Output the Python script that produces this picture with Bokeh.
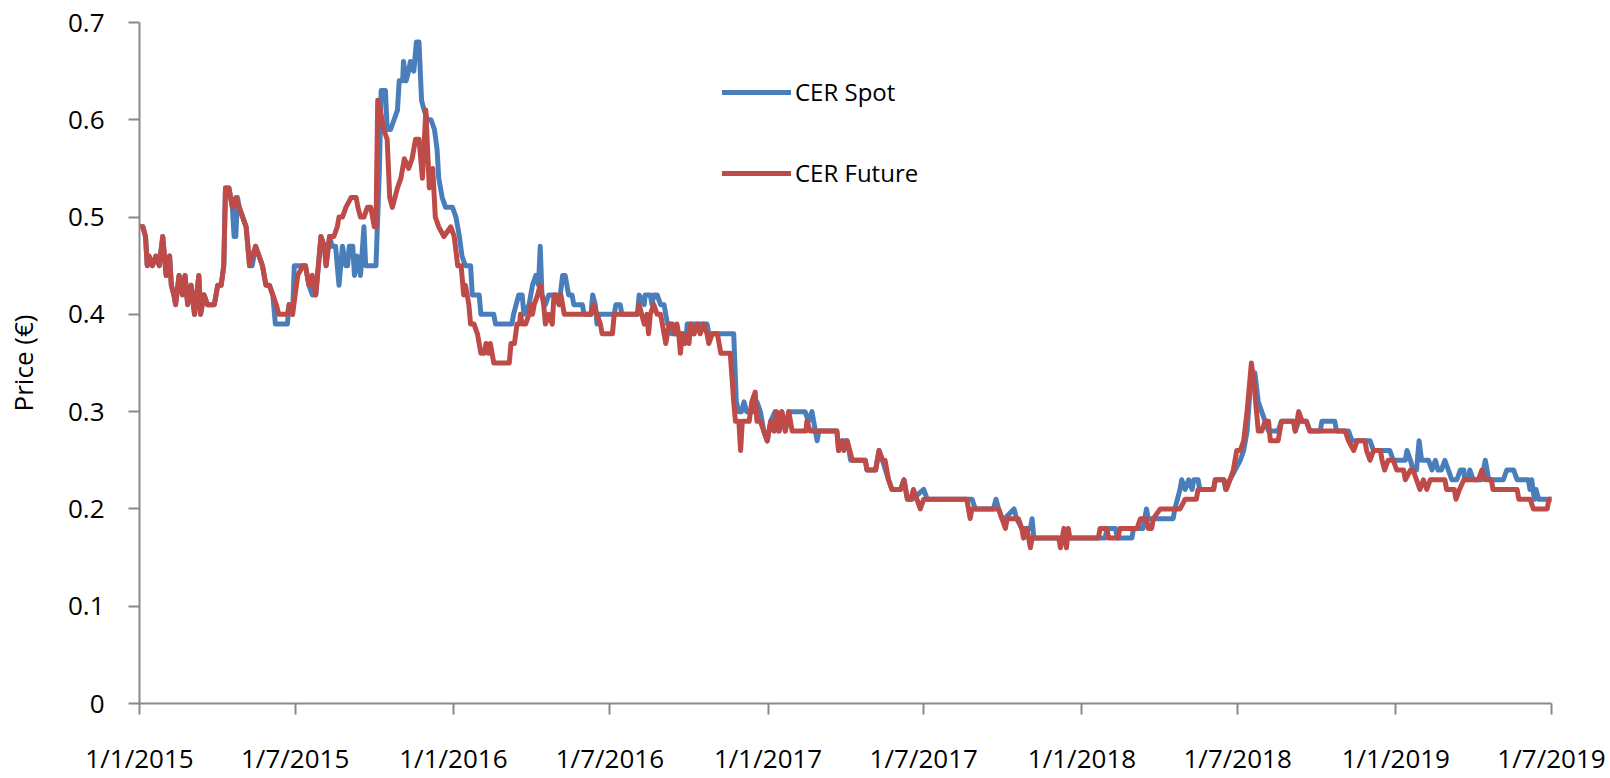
from bokeh.plotting import figure
from bokeh.models import Range1d, FixedTicker, Legend, LegendItem, CustomJSTickFormatter
from bokeh.embed import file_html
from bokeh.resources import INLINE

# x values are days since 1/1/2015
x_tick_days = [0, 181, 365, 547, 731, 912, 1096, 1277, 1461, 1642]
x_tick_labels = ["1/1/2015", "1/7/2015", "1/1/2016", "1/7/2016", "1/1/2017",
                 "1/7/2017", "1/1/2018", "1/7/2018", "1/1/2019", "1/7/2019"]
y_ticks = [0, 0.1, 0.2, 0.3, 0.4, 0.5, 0.6, 0.7]
y_tick_labels = ["0", "0.1", "0.2", "0.3", "0.4", "0.5", "0.6", "0.7"]

future_day = [0, 4, 7, 9, 11, 15, 19, 23, 27, 31, 35, 37, 40, 42, 46, 50, 53, 56, 60, 64, 69, 71, 75, 79, 87, 91, 95, 98,
              100, 104, 108, 112, 116, 120, 124, 128, 131, 135, 139, 143, 147, 151, 155, 159, 162, 172, 174, 178, 184, 190,
              193, 197, 201, 205, 211, 215, 217, 221, 226, 230, 232, 236, 240, 246, 252, 254, 257, 261, 265, 269, 273, 275,
              277, 280, 284, 288, 291, 294, 300, 304, 308, 313, 317, 321, 325, 329, 333, 337, 341, 344, 348, 354, 362, 366,
              370, 374, 375, 377, 379, 381, 383, 385, 389, 393, 395, 397, 401, 403, 406, 408, 410, 412, 430, 432, 436, 439,
              442, 443, 445, 449, 453, 455, 457, 459, 463, 466, 470, 472, 476, 480, 482, 486, 488, 490, 494, 525, 528, 532,
              536, 538, 550, 552, 579, 581, 584, 587, 590, 592, 594, 598, 602, 606, 608, 612, 616, 620, 623, 625, 627, 629,
              631, 634, 637, 639, 641, 645, 649, 652, 656, 660, 662, 666, 672, 676, 687, 691, 693, 697, 699, 701, 709, 712,
              716, 718, 722, 726, 730, 734, 738, 741, 744, 747, 751, 755, 759, 775, 776, 780, 811, 813, 817, 819, 823, 829,
              844, 846, 856, 860, 864, 867, 871, 875, 885, 889, 893, 897, 900, 904, 908, 912, 962, 966, 968, 999, 1003, 1007,
              1009, 1022, 1026, 1028, 1032, 1036, 1038, 1069, 1071, 1075, 1078, 1080, 1082, 1115, 1117, 1125, 1127, 1138,
              1140, 1160, 1164, 1171, 1173, 1177, 1179, 1187, 1210, 1216, 1229, 1231, 1249, 1251, 1261, 1264, 1268, 1272,
              1276, 1280, 1284, 1288, 1292, 1293, 1296, 1298, 1301, 1305, 1309, 1313, 1315, 1324, 1328, 1342, 1344, 1348,
              1352, 1357, 1361, 1402, 1406, 1412, 1416, 1425, 1427, 1431, 1435, 1443, 1445, 1448, 1452, 1458, 1462, 1470,
              1472, 1478, 1481, 1485, 1489, 1493, 1497, 1501, 1518, 1520, 1529, 1531, 1535, 1540, 1557, 1561, 1565, 1572,
              1574, 1602, 1604, 1617, 1621, 1637, 1639, 1642]
future_price = [0.49, 0.49, 0.48, 0.45, 0.46, 0.45, 0.46, 0.45, 0.48, 0.44, 0.46, 0.43, 0.42, 0.41, 0.44, 0.42, 0.44, 0.41,
                0.43, 0.40, 0.44, 0.40, 0.42, 0.41, 0.41, 0.43, 0.43, 0.45,
                0.53, 0.53, 0.51, 0.52, 0.51, 0.50, 0.49, 0.45, 0.46, 0.47, 0.46, 0.45, 0.43, 0.43, 0.42, 0.41, 0.40, 0.40,
                0.41, 0.40, 0.44, 0.45,
                0.45, 0.43, 0.44, 0.42, 0.48, 0.47, 0.45, 0.48, 0.48, 0.49, 0.50, 0.50, 0.51, 0.52, 0.52, 0.51, 0.50, 0.50,
                0.51, 0.51, 0.49, 0.49,
                0.62, 0.61, 0.59, 0.58, 0.52, 0.51, 0.53, 0.54, 0.56, 0.55, 0.56, 0.58, 0.58, 0.54, 0.61, 0.53, 0.55, 0.50,
                0.49, 0.48, 0.49, 0.48,
                0.45, 0.45, 0.44, 0.42, 0.43, 0.42, 0.41, 0.39, 0.39, 0.38, 0.37, 0.36, 0.36, 0.37, 0.36, 0.37, 0.36, 0.35,
                0.35, 0.37, 0.37, 0.39,
                0.39, 0.40, 0.39, 0.39, 0.40, 0.41, 0.40, 0.41, 0.42, 0.43, 0.41, 0.39, 0.40, 0.39, 0.42, 0.42, 0.41, 0.42,
                0.40, 0.40, 0.41, 0.40,
                0.39, 0.38, 0.38, 0.40, 0.40, 0.41, 0.40, 0.39, 0.40, 0.38, 0.40, 0.41, 0.40, 0.40, 0.39, 0.37, 0.39, 0.39,
                0.38, 0.39, 0.38, 0.36,
                0.38, 0.37, 0.38, 0.37, 0.39, 0.38, 0.39, 0.38, 0.39, 0.38, 0.37, 0.38, 0.38, 0.36, 0.36, 0.31, 0.29, 0.29,
                0.26, 0.29, 0.29, 0.31,
                0.32, 0.29, 0.29, 0.28, 0.27, 0.29, 0.28, 0.30, 0.28, 0.30, 0.28, 0.30, 0.28, 0.28, 0.29, 0.28, 0.28, 0.26,
                0.27, 0.26, 0.27, 0.25,
                0.25, 0.24, 0.24, 0.26, 0.25, 0.25, 0.23, 0.22, 0.22, 0.23, 0.21, 0.21, 0.22, 0.21, 0.20, 0.21, 0.21, 0.19,
                0.20, 0.20, 0.19, 0.18,
                0.19, 0.19, 0.18, 0.17, 0.18, 0.16, 0.17, 0.17, 0.16, 0.18, 0.16, 0.18, 0.17, 0.17, 0.18, 0.18, 0.17, 0.17,
                0.18, 0.18, 0.19, 0.19, 0.18, 0.18, 0.19, 0.20, 0.20, 0.21, 0.21, 0.22, 0.22, 0.23, 0.23, 0.22, 0.23, 0.24,
                0.26, 0.26, 0.27, 0.30, 0.34, 0.35, 0.33, 0.31, 0.28, 0.28, 0.29, 0.29, 0.27, 0.27, 0.29, 0.29, 0.28, 0.30,
                0.29, 0.29, 0.28, 0.28, 0.27, 0.26, 0.27, 0.27, 0.26, 0.25, 0.26, 0.26, 0.25, 0.24, 0.25, 0.25, 0.24, 0.24,
                0.23, 0.24, 0.24, 0.23, 0.22, 0.23, 0.22, 0.23, 0.23, 0.22, 0.22, 0.21, 0.22, 0.23, 0.23, 0.24, 0.23, 0.23,
                0.22, 0.22, 0.21, 0.21, 0.20, 0.20, 0.21, 0.21]

spot_day = [0, 4, 7, 9, 11, 15, 19, 23, 27, 31, 35, 37, 40, 42, 46, 50, 53, 56, 60, 64, 69, 71, 75, 79, 87, 91, 95, 98,
            100, 104, 108, 110, 112, 114, 116, 120, 124, 128, 131, 135, 139, 143, 147, 151, 155, 158, 172, 174, 178, 180,
            190, 193, 197, 201, 205, 211, 215, 217, 221, 224, 228, 230, 232, 234, 236, 240, 242, 244, 248, 250, 253, 257,
            261, 263, 275, 279, 281, 286, 288, 292, 296, 300, 302, 306, 307, 310, 313, 315, 319, 322, 325, 328, 331, 335,
            339, 343, 346, 348, 352, 356, 364, 368, 372, 375, 379, 385, 387, 395, 397, 412, 414, 433, 435, 441, 445, 447,
            453, 457, 461, 464, 466, 468, 472, 476, 484, 488, 492, 495, 499, 503, 505, 515, 517, 525, 527, 530, 532, 534,
            552, 554, 559, 561, 579, 581, 587, 588, 594, 596, 598, 602, 606, 610, 614, 617, 619, 636, 637, 660, 662, 691,
            694, 697, 700, 703, 706, 714, 718, 722, 726, 730, 734, 739, 743, 747, 751, 755, 770, 774, 778, 782, 786, 788,
            790, 811, 813, 817, 823, 827, 844, 846, 856, 860, 864, 871, 875, 885, 889, 893, 899, 912, 916, 968, 972, 993,
            996, 999, 1003, 1006, 1017, 1020, 1026, 1036, 1038, 1040, 1123, 1125, 1135, 1137, 1154, 1156, 1167, 1171,
            1173, 1202, 1204, 1210, 1212, 1216, 1220, 1224, 1226, 1231, 1233, 1249, 1251, 1261, 1263, 1268, 1274, 1280,
            1284, 1288, 1292, 1294, 1297, 1301, 1305, 1309, 1313, 1324, 1328, 1342, 1344, 1348, 1357, 1361, 1373, 1375,
            1390, 1392, 1406, 1410, 1431, 1435, 1454, 1458, 1472, 1474, 1478, 1481, 1485, 1488, 1491, 1499, 1503, 1507,
            1510, 1514, 1518, 1522, 1526, 1532, 1536, 1540, 1541, 1545, 1547, 1551, 1561, 1565, 1569, 1586, 1590, 1598,
            1602, 1615, 1617, 1619, 1622, 1624, 1627, 1642]
spot_price = [0.49, 0.49, 0.48, 0.45, 0.46, 0.45, 0.46, 0.45, 0.48, 0.44, 0.46, 0.43, 0.42, 0.41, 0.44, 0.42, 0.44, 0.41,
              0.43, 0.40, 0.44, 0.40, 0.42, 0.41, 0.41, 0.43, 0.43, 0.45,
              0.53, 0.53, 0.51, 0.48, 0.48, 0.52, 0.51, 0.50, 0.49, 0.45, 0.45, 0.47, 0.46, 0.45, 0.43, 0.43, 0.42, 0.39,
              0.39, 0.41, 0.40, 0.45,
              0.45, 0.45, 0.43, 0.42, 0.42, 0.48, 0.47, 0.45, 0.48, 0.47, 0.47, 0.45, 0.43, 0.45, 0.47, 0.45, 0.45, 0.47,
              0.47, 0.44, 0.46, 0.44,
              0.49, 0.45, 0.45, 0.55, 0.63, 0.63, 0.59, 0.59, 0.60, 0.61, 0.64, 0.64, 0.66, 0.64, 0.65, 0.66, 0.65, 0.68,
              0.68, 0.62, 0.61, 0.60,
              0.60, 0.59, 0.57, 0.54, 0.52, 0.51, 0.51, 0.50, 0.48, 0.46, 0.45, 0.45, 0.42, 0.42, 0.40, 0.40, 0.39, 0.39,
              0.40, 0.42, 0.42, 0.40,
              0.41, 0.43, 0.44, 0.43, 0.47, 0.42, 0.41, 0.42, 0.42, 0.41, 0.44, 0.44, 0.42, 0.42, 0.41, 0.41, 0.40, 0.40,
              0.42, 0.41, 0.39, 0.40,
              0.40, 0.41, 0.41, 0.40, 0.40, 0.42, 0.41, 0.42, 0.42, 0.41, 0.42, 0.42, 0.41, 0.41, 0.39, 0.39, 0.38, 0.38,
              0.39, 0.39, 0.38, 0.38,
              0.31, 0.30, 0.30, 0.31, 0.30, 0.30, 0.31, 0.30, 0.28, 0.27, 0.29, 0.30, 0.28, 0.30, 0.28, 0.30, 0.30, 0.30,
              0.29, 0.30, 0.28, 0.27,
              0.28, 0.28, 0.26, 0.27, 0.27, 0.25, 0.25, 0.24, 0.24, 0.26, 0.25, 0.23, 0.22, 0.22, 0.23, 0.21, 0.21, 0.22,
              0.21, 0.21, 0.20, 0.20,
              0.21, 0.20, 0.19, 0.19, 0.20, 0.19, 0.18, 0.18, 0.19, 0.17, 0.17, 0.18, 0.18, 0.17, 0.17, 0.18, 0.18, 0.20,
              0.19, 0.19, 0.20, 0.22, 0.23, 0.22, 0.23, 0.22, 0.23, 0.23, 0.22, 0.22, 0.23, 0.23, 0.22, 0.23, 0.24, 0.25,
              0.26, 0.28, 0.33, 0.34, 0.34, 0.31, 0.30, 0.29, 0.28, 0.28, 0.29, 0.29, 0.28, 0.29, 0.29, 0.28, 0.28, 0.29,
              0.29, 0.28, 0.28, 0.27, 0.27, 0.26, 0.26, 0.25, 0.25, 0.26, 0.25, 0.24, 0.24, 0.27, 0.25, 0.25, 0.24, 0.25,
              0.24, 0.24, 0.25, 0.24, 0.23, 0.23, 0.24, 0.24, 0.23, 0.23, 0.24, 0.23, 0.23, 0.25, 0.23, 0.23, 0.24, 0.24,
              0.23, 0.23, 0.22, 0.23, 0.21, 0.22, 0.21, 0.21]

FONT = "Open Sans"
AXIS_GREY = "#898989"

p = figure(width=1610, height=778, x_range=Range1d(0, 1642), y_range=Range1d(0, 0.7),
           output_backend="svg", toolbar_location=None,
           min_border_left=139, min_border_right=59, min_border_top=22, min_border_bottom=73)
p.outline_line_color = None
p.grid.visible = False
p.background_fill_color = "white"
p.border_fill_color = "white"

r_spot = p.line(spot_day, spot_price, line_color="#4A7EBB", line_width=5,
                line_join="round", line_cap="round")
r_fut = p.line(future_day, future_price, line_color="#BE4B48", line_width=5,
               line_join="round", line_cap="round")

fmt_code = """
let best = -1;
for (let i = 0; i < tvals.length; i++) { if (Math.abs(tvals[i] - tick) < 1e-6) { best = i; } }
return best >= 0 ? tlabels[best] : "";
"""
p.xaxis.ticker = FixedTicker(ticks=x_tick_days)
p.xaxis.formatter = CustomJSTickFormatter(args=dict(tvals=x_tick_days, tlabels=x_tick_labels), code=fmt_code)
p.yaxis.ticker = FixedTicker(ticks=y_ticks)
p.yaxis.formatter = CustomJSTickFormatter(args=dict(tvals=y_ticks, tlabels=y_tick_labels), code=fmt_code)

for ax in (p.xaxis[0], p.yaxis[0]):
    ax.axis_line_color = AXIS_GREY
    ax.axis_line_width = 2
    ax.major_tick_line_color = AXIS_GREY
    ax.major_tick_line_width = 2
    ax.major_tick_in = 0
    ax.major_tick_out = 11
    ax.minor_tick_line_color = None
    ax.major_label_text_font = FONT
    ax.major_label_text_font_size = "26px"
    ax.major_label_text_color = "black"

p.xaxis.major_label_standoff = 25
p.xaxis.major_label_text_baseline = "hanging"
p.yaxis.major_label_standoff = 24
p.yaxis.axis_label = "Price (€)"
p.yaxis.axis_label_text_font = FONT
p.yaxis.axis_label_text_font_size = "26px"
p.yaxis.axis_label_text_font_style = "normal"
p.yaxis.axis_label_text_color = "black"
p.yaxis.axis_label_standoff = 24

legend = Legend(items=[LegendItem(label="CER Spot", renderers=[r_spot]),
                       LegendItem(label="CER Future", renderers=[r_fut])],
                location=(583, 514), orientation="vertical",
                padding=0, margin=0, spacing=48,
                glyph_width=69, glyph_height=30, label_height=30, label_standoff=4,
                border_line_color=None, background_fill_alpha=0,
                label_text_font=FONT, label_text_font_size="24px", label_text_color="black")
p.add_layout(legend, "center")

open("out.html", "w").write(file_html(p, INLINE, title="CER prices"))
